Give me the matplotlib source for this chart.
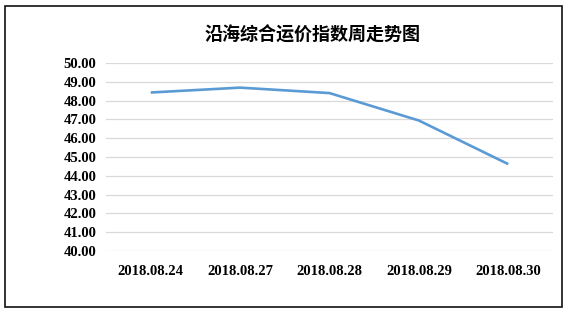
import matplotlib
matplotlib.use("Agg")
import matplotlib.pyplot as plt
from matplotlib.patches import Rectangle

categories = ["2018.08.24", "2018.08.27", "2018.08.28", "2018.08.29", "2018.08.30"]
values = [48.43, 48.69, 48.40, 46.94, 44.62]
yticks = [40, 41, 42, 43, 44, 45, 46, 47, 48, 49, 50]
title = "沿海综合运价指数周走势图"

plt.rcParams['font.family'] = ['Liberation Serif', 'Noto Sans CJK SC', 'DejaVu Sans']

fig = plt.figure(figsize=(5.70, 3.13), dpi=100)
fig.patches.append(Rectangle((5/570, 6/313), 557/570, 301/313, transform=fig.transFigure,
                             fill=False, edgecolor='#111111', linewidth=1.2))
ax = fig.add_axes([106/570, 1-251/313, 447/570, 188/313])
x = list(range(len(categories)))
ax.plot(x, values, color='#5B9BD5', linewidth=1.9, solid_capstyle='butt')
ax.set_xlim(-0.5, len(categories) - 0.5)
ax.set_ylim(40, 50)
ax.set_yticks(yticks)
ax.set_yticklabels([f"{v:.2f}" for v in yticks], fontsize=10.5, fontweight='bold')
ax.set_xticks(x)
ax.set_xticklabels(categories, fontsize=10.5, fontweight='bold')
ax.tick_params(axis='both', length=0)
ax.tick_params(axis='x', pad=10)
ax.tick_params(axis='y', pad=7)
ax.grid(axis='y', color='#D9D9D9', linewidth=0.9)
ax.set_axisbelow(True)
for s in ax.spines.values():
    s.set_visible(False)
fig.text(312.5/570, 1-35/313, title, ha='center', va='center', fontsize=13,
         fontweight='bold', family=['Noto Sans CJK SC', 'DejaVu Sans'])
fig.savefig("out.png", dpi=100)
